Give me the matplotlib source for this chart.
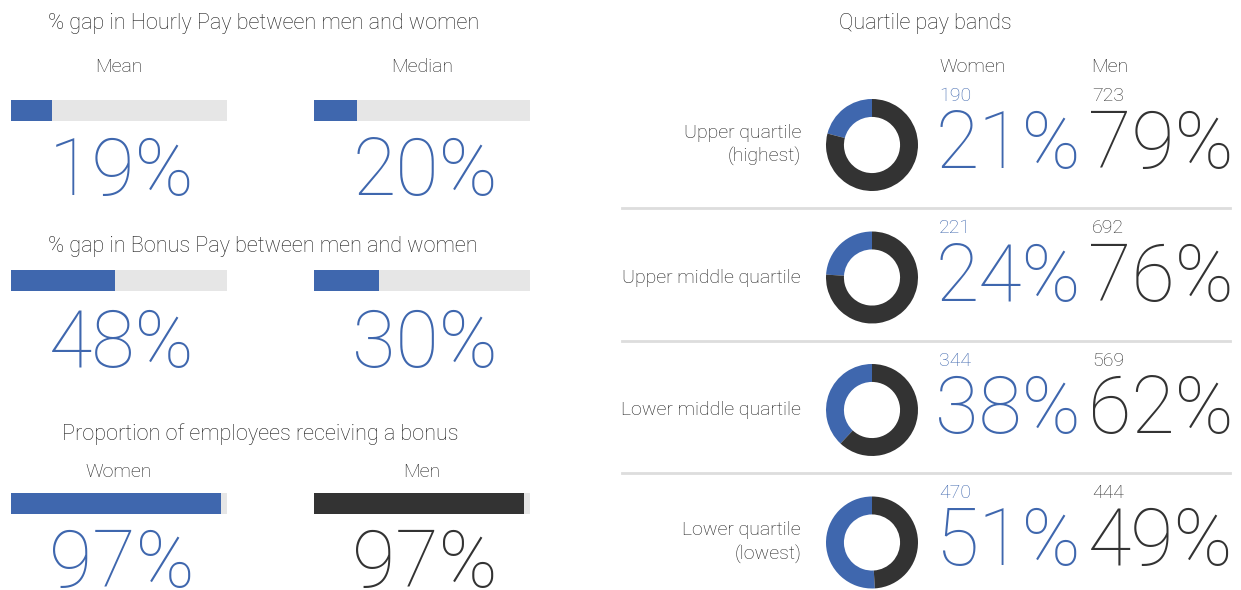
import matplotlib
matplotlib.use("Agg")
import matplotlib.pyplot as plt
from matplotlib.lines import Line2D

# ---------------- data ----------------
gap_labels = ["Mean", "Median"]
hourly_gap = [19, 20]
bonus_gap = [48, 30]
bonus_groups = ["Women", "Men"]
bonus_received = [97, 97]

quartile_labels = ["Upper quartile\n(highest)", "Upper middle quartile",
                   "Lower middle quartile", "Lower quartile\n(lowest)"]
women_counts = [190, 221, 344, 470]
men_counts = [723, 692, 569, 444]
women_pct = [21, 24, 38, 51]
men_pct = [79, 76, 62, 49]

# ---------------- style ----------------
BLUE = "#3F67AE"
DARK = "#333333"
GRAY = "#E6E6E6"
SEP = "#DDDDDD"
TXT = "#1E1E1E"
plt.rcParams['font.family'] = ['Roboto', 'DejaVu Sans']

W, H = 1241, 590
fig = plt.figure(figsize=(W / 100, H / 100), dpi=100)
fig.patch.set_facecolor("white")


def fx(x):
    return x / W


def fy(y):
    return 1 - y / H


def txt(x, y, s, size, color=TXT, ha="center", va="center", **kw):
    fig.text(fx(x), fy(y), s, fontsize=size, color=color, ha=ha, va=va,
             fontweight="light", **kw)


def bar(x0, x1, ytop, ybot, value, color):
    ax = fig.add_axes([fx(x0), fy(ybot), fx(x1) - fx(x0), (ybot - ytop) / H])
    ax.barh([0], [100], color=GRAY, height=1.0, linewidth=0)
    ax.barh([0], [value], color=color, height=1.0, linewidth=0)
    ax.set_xlim(0, 100)
    ax.set_ylim(-0.5, 0.5)
    ax.axis("off")


BIG = 57
TITLE = 15.6
LAB = 14
cols = [(11, 227), (314, 530)]

# ----- section 1: hourly pay gap -----
txt(264, 23, "% gap in Hourly Pay between men and women", TITLE)
for (x0, x1), lab, v in zip(cols, gap_labels, hourly_gap):
    cx = (x0 + x1) / 2
    txt(cx, 67, lab, LAB)
    bar(x0, x1, 100, 121, v, BLUE)
    txt(cx + 3, 195, f"{v}%", BIG, color=BLUE, va="baseline")

# ----- section 2: bonus pay gap -----
txt(263, 247, "% gap in Bonus Pay between men and women", TITLE)
for (x0, x1), v in zip(cols, bonus_gap):
    cx = (x0 + x1) / 2
    bar(x0, x1, 270, 291, v, BLUE)
    txt(cx + 3, 367, f"{v}%", BIG, color=BLUE, va="baseline")

# ----- section 3: proportion receiving bonus -----
txt(260, 434, "Proportion of employees receiving a bonus", TITLE)
colors3 = [BLUE, DARK]
for (x0, x1), lab, v, c in zip(cols, bonus_groups, bonus_received, colors3):
    cx = (x0 + x1) / 2
    txt(cx, 472, lab, LAB)
    bar(x0, x1, 493, 514, v, c)
    txt(cx + 3, 587, f"{v}%", BIG, color=c, va="baseline")

# ----- right: quartile pay bands -----
txt(925, 23, "Quartile pay bands", TITLE)
txt(939, 67, "Women", LAB, ha="left")
txt(1091, 67, "Men", LAB, ha="left")

row_y = [145, 277.5, 410, 542.5]
R = 46
for i, yc in enumerate(row_y):
    ax = fig.add_axes([fx(872 - R), fy(yc + R), 2 * R / W, 2 * R / H])
    ax.pie([women_pct[i], men_pct[i]], colors=[BLUE, DARK], startangle=90,
           counterclock=True, radius=1.0,
           wedgeprops=dict(width=0.39, linewidth=0))
    ax.set_xlim(-1, 1)
    ax.set_ylim(-1, 1)
    ax.set_aspect("equal")
    ax.axis("off")
    txt(801, yc, quartile_labels[i], LAB, ha="right", multialignment="right",
        linespacing=1.35)
    txt(939, yc - 44, str(women_counts[i]), LAB, color=BLUE, ha="left",
        va="baseline")
    txt(1092, yc - 44, str(men_counts[i]), LAB, color=DARK, ha="left",
        va="baseline")
    txt(935, yc + 23, f"{women_pct[i]}%", BIG, color=BLUE, ha="left",
        va="baseline")
    txt(1088, yc + 23, f"{men_pct[i]}%", BIG, color=DARK, ha="left",
        va="baseline")

for ys in [208, 340.5, 473]:
    fig.add_artist(Line2D([fx(622), fx(1230)], [fy(ys), fy(ys)], color=SEP,
                          linewidth=2.0, transform=fig.transFigure))

fig.savefig("out.png", dpi=100, facecolor="white")
